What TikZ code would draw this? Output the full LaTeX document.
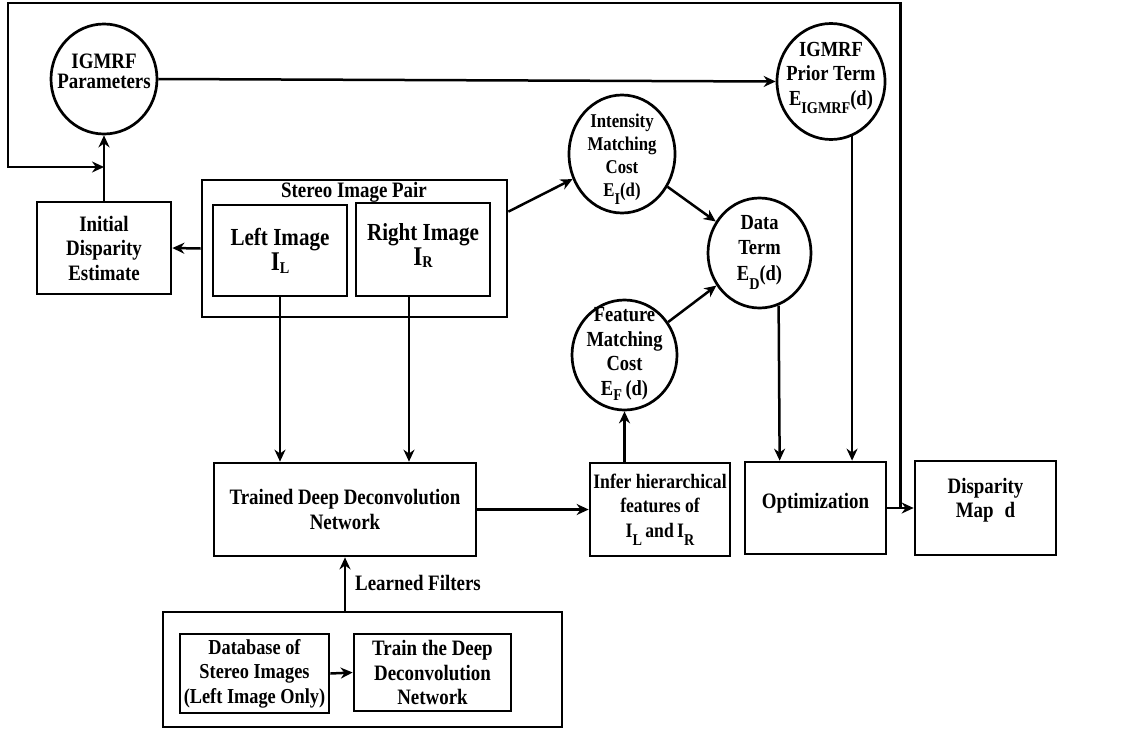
\documentclass[tikz,border=0pt]{standalone}
\usepackage{fontspec}
\setmainfont{Liberation Serif}[FakeStretch=0.86]
\usetikzlibrary{arrows.meta,shapes.geometric,calc}

\newcommand\mysub[2][7pt]{\raisebox{-#1}{\fontsize{16.5}{16.5}\selectfont #2}}
\newcommand\txt{\fontsize{22}{24.5}\selectfont\bfseries}
\newcommand\ctxt{\fontsize{21.5}{24.5}\selectfont\bfseries}
\newcommand\updepth[2]{\raisebox{0pt}[\height][\dimexpr\depth+#1\relax]{#2}}

\begin{document}
\begin{tikzpicture}[x=1pt,y=-1pt,
  box/.style={draw,line width=2.7pt,inner sep=0pt,align=center,font=\txt},
  circ/.style={draw,ellipse,line width=2.7pt,inner sep=0pt},
  ctext/.style={font=\ctxt,align=center,inner sep=0pt},
  arr/.style={line width=2.5pt,-{Stealth[length=12pt,width=11pt]}}]
\useasboundingbox[fill=white] (0,0) rectangle (1123,731);

% boxes
\node[box,minimum width=134pt,minimum height=92pt] (init) at (104,248) {Initial\\Disparity\\Estimate};
\node[box,minimum width=305pt,minimum height=137pt] (stereo) at (354.5,248.5) {};
\node[font=\txt,inner sep=0pt] (stitle) at (354,192) {Stereo Image Pair};
\node[box,minimum width=134pt,minimum height=91pt,font=\fontsize{24.5}{25}\selectfont\bfseries] (left) at (280,250.5)
  {Left Image\\{\fontsize{27}{27}\selectfont I}\mysub[3pt]{L}};
\node[box,minimum width=134pt,minimum height=93pt,font=\fontsize{24.5}{25}\selectfont\bfseries] (right) at (423,249.5)
  {Right Image\\\updepth{8pt}{{\fontsize{27}{27}\selectfont I}\mysub[2pt]{R}}};
\node[box,minimum width=262pt,minimum height=93pt] (trained) at (345,509.5) {Trained Deep Deconvolution\\Network};
\node[box,minimum width=140pt,minimum height=93pt,font=\fontsize{20.5}{24.5}\selectfont\bfseries] (infer) at (660,509.5)
  {Infer hierarchical\\features of\\I\mysub[8pt]{L}\,and\,I\mysub[8pt]{R}};
\node[box,minimum width=141pt,minimum height=92pt] (opt) at (815.5,508) {\updepth{10pt}{Optimization}};
\node[box,minimum width=141pt,minimum height=94pt] (disp) at (985.5,508) {Disparity\\\updepth{16pt}{Map\hspace{11pt}d}};
\node[box,minimum width=399pt,minimum height=115pt] (bottom) at (362.5,669.5) {};
\node[box,minimum width=149pt,minimum height=79pt,font=\fontsize{21.3}{24.5}\selectfont\bfseries] (db) at (254.5,673.5)
  {Database of\\Stereo Images\\(Left Image Only)};
\node[box,minimum width=157pt,minimum height=77pt] (train) at (432.5,672.5) {Train the Deep\\Deconvolution\\Network};
\node[font=\txt,inner sep=0pt,anchor=west] (lf) at (355,583) {Learned Filters};

% ellipses
\node[circ,minimum width=106pt,minimum height=110pt,
  label={[ctext,font=\fontsize{22}{20}\selectfont\bfseries,yshift=8pt]center:IGMRF\\Parameters}] (params) at (104,79) {};
\node[circ,minimum width=108pt,minimum height=116pt,
  label={[ctext,yshift=4pt]center:IGMRF\\Prior Term\\E\mysub[8pt]{IGMRF}(d)}] (prior) at (831,81.5) {};
\node[circ,minimum width=106pt,minimum height=118pt,
  label={[ctext,font=\fontsize{19.5}{23}\selectfont\bfseries,yshift=-5pt]center:Intensity\\Matching\\Cost\\E\mysub[8pt]{I}(d)}] (intensity) at (622,154) {};
\node[circ,minimum width=103pt,minimum height=110pt,
  label={[ctext,font=\fontsize{21.5}{25.5}\selectfont\bfseries,yshift=1pt]center:Data\\Term\\E\mysub[9pt]{D}(d)}] (data) at (759.5,253) {};
\node[circ,minimum width=105pt,minimum height=110pt,
  label={[ctext,yshift=1pt]center:Feature\\Matching\\Cost\\E\mysub[5pt]{F}\,(d)}] (feature) at (624.5,355) {};

% coordinates
\coordinate (sip) at ($(stereo.north east)+(0,33)$);
\coordinate (rout) at ($(right.south)+(-14,0)$);
\coordinate (optin) at ($(opt.north west)+(36,0)$);
\coordinate (fb) at ($(opt.east)!0.5!(disp.west)$);
\coordinate (ftl) at (8,3);
\coordinate (fjoin) at (104,167);

% connectors
\draw[arr] (params.east) -- (prior.west);
\draw[arr] (init.north) -- (init.north |- params.south);
\draw[arr] (stereo.west) -- (init.east);
\draw[arr] (sip) -- (intensity);
\draw[arr] (intensity) -- (data);
\draw[arr] (feature) -- (data);
\draw[arr] (data.290) -- (optin);
\draw[arr] (prior.291.5) -- (prior.291.5 |- opt.north);
\draw[arr] (left.south) -- (left.south |- trained.north);
\draw[arr] (rout) -- (rout |- trained.north);
\draw[arr] (trained.east) -- (infer.west);
\draw[arr] (feature.south |- infer.north) -- (feature.south);
\draw[arr] (trained.south |- bottom.north) -- (trained.south);
\draw[arr] (db.east) -- (train.west);
\draw[arr] (opt.east) -- (disp.west);
\draw[arr,line width=2.8pt] (fb) -- (fb |- ftl) -- (ftl) -- (ftl |- fjoin) -- (fjoin);
\end{tikzpicture}
\end{document}
